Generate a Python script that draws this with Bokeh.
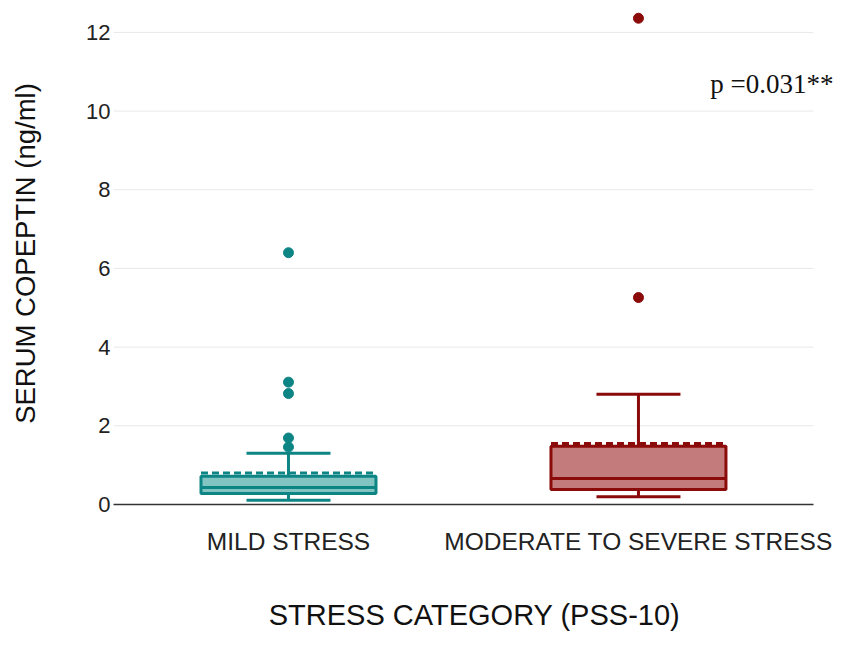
from bokeh.plotting import figure
from bokeh.models import Range1d, FixedTicker, Label, ColumnDataSource
from bokeh.embed import file_html
from bokeh.resources import INLINE

# ---- data ----
categories = ["MILD STRESS", "MODERATE TO SEVERE STRESS"]
positions = [0.5, 1.5]
q1 = [0.28, 0.38]
median = [0.43, 0.66]
q3 = [0.72, 1.48]
mean = [0.80, 1.55]
lower_whisker = [0.11, 0.20]
upper_whisker = [1.30, 2.80]
outliers_mild = [6.40, 3.11, 2.82, 1.69, 1.46]
outliers_moderate = [12.36, 5.26]
y_ticks = [0, 2, 4, 6, 8, 10, 12]
line_colors = ["#0e8585", "#8b0a0a"]
fill_colors = ["#82c4c1", "#c47b7b"]

box_w = 0.5
cap_w = 0.24
x_end = 2.0

p = figure(width=835, height=633, output_backend="svg", toolbar_location=None,
           x_range=Range1d(0, 2.063), y_range=Range1d(0, 12.76),
           min_border_left=113, min_border_right=0, min_border_top=2,
           min_border_bottom=129)
p.outline_line_color = None
p.background_fill_color = "white"
p.border_fill_color = "white"

# horizontal grid lines over the category area only
p.segment(x0=[0] * len(y_ticks), x1=[x_end] * len(y_ticks), y0=y_ticks, y1=y_ticks,
          line_color="#e8e8e8", line_width=1)

src = ColumnDataSource(dict(
    x=positions, q1=q1, med=median, q3=q3, mean=mean,
    lo=lower_whisker, hi=upper_whisker,
    left=[x - box_w / 2 for x in positions], right=[x + box_w / 2 for x in positions],
    cl=[x - cap_w / 2 for x in positions], cr=[x + cap_w / 2 for x in positions],
    lc=line_colors, fc=fill_colors))

# whiskers
p.segment(x0="x", y0="q3", x1="x", y1="hi", source=src, line_color="lc", line_width=3)
p.segment(x0="x", y0="lo", x1="x", y1="q1", source=src, line_color="lc", line_width=3)
p.segment(x0="cl", y0="hi", x1="cr", y1="hi", source=src, line_color="lc", line_width=3)
p.segment(x0="cl", y0="lo", x1="cr", y1="lo", source=src, line_color="lc", line_width=3)
# box
p.quad(left="left", right="right", bottom="q1", top="q3", source=src,
       fill_color="fc", line_color="lc", line_width=3)
# median
p.segment(x0="left", y0="med", x1="right", y1="med", source=src, line_color="lc", line_width=3)
# mean (dashed)
p.segment(x0="left", y0="mean", x1="right", y1="mean", source=src, line_color="lc",
          line_width=3, line_dash="7 4")

# outliers
p.scatter(x=[positions[0]] * len(outliers_mild), y=outliers_mild, size=10,
          fill_color=line_colors[0], line_color=line_colors[0])
p.scatter(x=[positions[1]] * len(outliers_moderate), y=outliers_moderate, size=10,
          fill_color=line_colors[1], line_color=line_colors[1])

# p-value annotation
p.add_layout(Label(x=2.057, y=10.68, text="p =0.031**", text_align="right",
                   text_baseline="middle", text_font="Liberation Serif",
                   text_font_size="27px", text_color="#111111"))

# axes
p.xaxis.ticker = FixedTicker(ticks=positions)
p.xaxis.major_label_overrides = {positions[i]: categories[i] for i in range(2)}
p.yaxis.ticker = FixedTicker(ticks=y_ticks)
p.xgrid.grid_line_color = None
p.ygrid.grid_line_color = None
p.xaxis.bounds = (0, x_end)

for ax in (p.xaxis[0], p.yaxis[0]):
    ax.major_tick_line_color = None
    ax.minor_tick_line_color = None
    ax.major_tick_out = 0
    ax.major_tick_in = 0
    ax.minor_tick_out = 0
    ax.minor_tick_in = 0
    ax.major_label_text_font = "Liberation Sans"
    ax.axis_label_text_font = "Liberation Sans"
    ax.axis_label_text_font_style = "normal"
    ax.major_label_text_color = "#222222"
    ax.axis_label_text_color = "#111111"

p.yaxis.axis_line_color = None
p.xaxis.axis_line_color = "#333333"
p.xaxis.axis_line_width = 1.5

p.yaxis.major_label_text_font_size = "22px"
p.xaxis.major_label_text_font_size = "24.5px"
p.yaxis.major_label_standoff = 3
p.xaxis.major_label_standoff = 23
p.yaxis.axis_label = "SERUM COPEPTIN (ng/ml)"
p.xaxis.axis_label = "STRESS CATEGORY (PSS-10)"
p.yaxis.axis_label_text_font_size = "27.5px"
p.xaxis.axis_label_text_font_size = "29px"
p.yaxis.axis_label_standoff = 42
p.xaxis.axis_label_standoff = 41

open("out.html", "w").write(file_html(p, INLINE))
